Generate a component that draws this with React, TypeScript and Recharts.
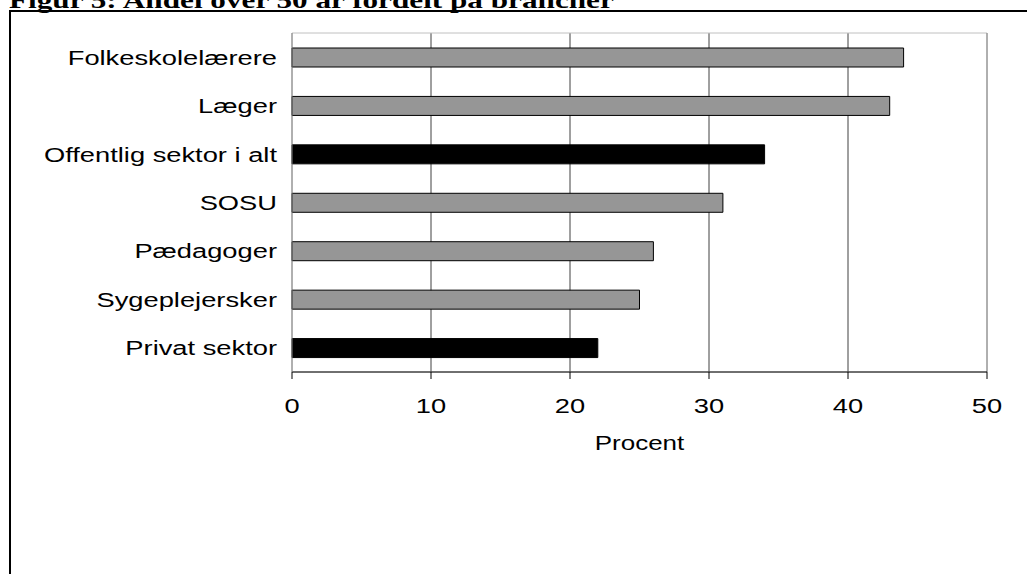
import {
  BarChart, Bar, XAxis, YAxis, CartesianGrid, Cell, ReferenceArea, ReferenceLine,
} from 'recharts';

const categories = [
  'Folkeskolelærere',
  'Læger',
  'Offentlig sektor i alt',
  'SOSU',
  'Pædagoger',
  'Sygeplejersker',
  'Privat sektor',
];
const values = [44, 43, 34, 31, 26, 25, 22];
const totals = [false, false, true, false, false, false, true];
const xTicks = [0, 10, 20, 30, 40, 50];
const gridTicks = [10, 20, 30, 40];

const data = categories.map((name, i) => ({ name, value: values[i], total: totals[i] }));

// the source picture is stretched sideways, so text gets the same stretch
const STRETCH = 1.3;
const FONT = 'Arial, "Liberation Sans", Helvetica, sans-serif';

function CategoryTick(props: any) {
  const { x, y, payload } = props;
  return (
    <text
      transform={`translate(${x},${y}) scale(${STRETCH},1)`}
      textAnchor="end"
      dy="0.355em"
      fontFamily={FONT}
      fontSize={21}
      fill="#000"
    >
      {payload.value}
    </text>
  );
}

function ValueTick(props: any) {
  const { x, y, payload } = props;
  return (
    <text
      transform={`translate(${x},${y + 32}) scale(${STRETCH},1)`}
      textAnchor="middle"
      fontFamily={FONT}
      fontSize={21}
      fill="#000"
    >
      {payload.value}
    </text>
  );
}

function AxisTitle(props: any) {
  const vb = props.viewBox || {};
  const cx = vb.x + vb.width / 2;
  return (
    <text
      transform={`translate(${cx},${vb.y + 77.5}) scale(${STRETCH},1)`}
      textAnchor="middle"
      fontFamily={FONT}
      fontSize={20}
      fill="#000"
    >
      Procent
    </text>
  );
}

export default function App() {
  return (
    <div style={{ position: 'absolute', left: 0, top: 0, width: 1027, height: 574, overflow: 'hidden', background: '#fff' }}>
      <svg width={1027} height={20} style={{ position: 'absolute', left: 0, top: 0 }}>
        <text
          transform={`translate(9,8) scale(${STRETCH},1)`}
          fontFamily='"Liberation Serif", "Times New Roman", serif'
          fontWeight="bold"
          fontSize={24}
          fill="#000"
        >
          Figur 5: Andel over 50 år fordelt på brancher
        </text>
      </svg>
      <div style={{ position: 'absolute', left: 9, top: 10, width: 1100, height: 700, border: '2px solid #000' }} />
      <div style={{ position: 'absolute', left: 0, top: 0 }}>
        <BarChart
          width={1027}
          height={574}
          data={data}
          layout="vertical"
          margin={{ top: 33, right: 40, bottom: 0, left: 0 }}
          barSize={19}
        >
          <ReferenceArea x1={0} x2={50} fill="none" stroke="#c0c0c0" strokeWidth={1} />
          <CartesianGrid horizontal={false} verticalValues={gridTicks} stroke="#404040" />
          <ReferenceLine x={50} stroke="#808080" />
          <XAxis
            type="number"
            domain={[0, 50]}
            ticks={xTicks}
            height={202}
            axisLine={{ stroke: '#000' }}
            tickLine={{ stroke: '#000' }}
            tickSize={7}
            tick={<ValueTick />}
            label={<AxisTitle />}
          />
          <YAxis
            type="category"
            dataKey="name"
            width={292}
            axisLine={{ stroke: '#808080' }}
            tickLine={false}
            tickSize={0}
            tickMargin={15}
            tick={<CategoryTick />}
            interval={0}
          />
          <Bar dataKey="value" isAnimationActive={false}>
            {data.map((d, i) => (
              <Cell
                key={`bar-${i}`}
                fill={d.total ? '#000' : '#969696'}
                stroke="#000"
                strokeWidth={1}
              />
            ))}
          </Bar>
        </BarChart>
      </div>
    </div>
  );
}
